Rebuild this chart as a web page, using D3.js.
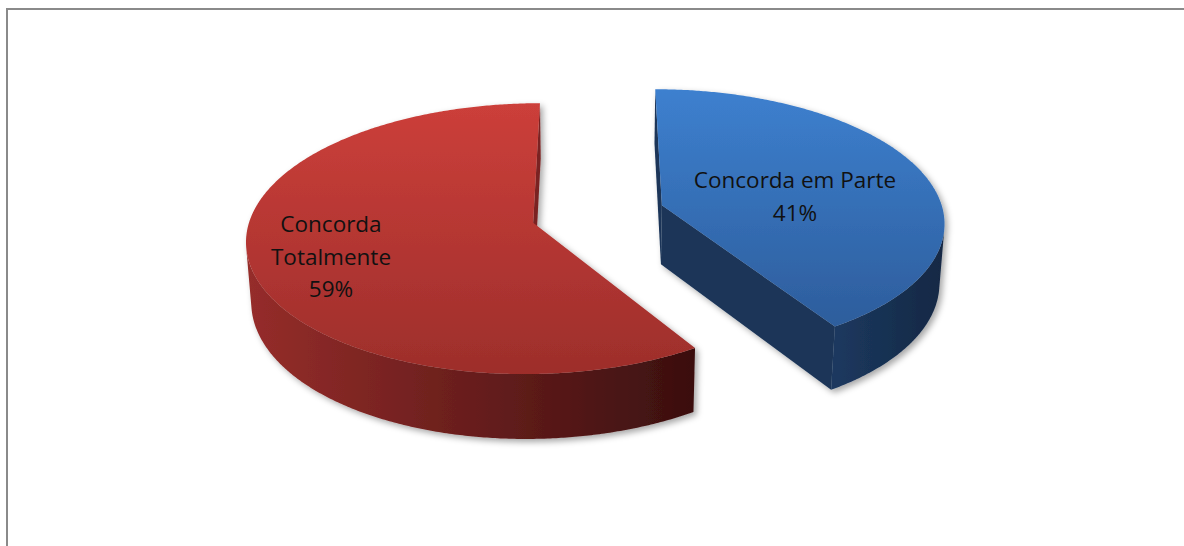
<!DOCTYPE html>
<html>
<head>
<meta charset="utf-8">
<script src="https://cdn.jsdelivr.net/npm/d3@7"></script>
<style>
  html, body { margin: 0; padding: 0; background: #fff; }
  svg { display: block; }
</style>
</head>
<body>
<svg id="chart" width="1184" height="546"></svg>
<script>
// data
const categories = ["Concorda em Parte", "Concorda Totalmente"];
const values = [41, 59];
const labelLines = [["Concorda em Parte", "41%"], ["Concorda", "Totalmente", "59%"]];

const palette = {
  "Concorda em Parte":   { top: ["#3d80cf", "#2d5d9c"], cut: "#1b3558", wall: ["#1c3960", "#142844"] },
  "Concorda Totalmente": { top: ["#cc3f3a", "#9d2e2b"], cut: "#7a2220", wall: ["#962d2a", "#3a0f0f"] }
};

// 3d view of the pie
const view = { cx: 598, cy: 214, D: 2145, alpha: 27.8 * Math.PI / 180 };
const R = 282, H = 68, explode = 67;
const sa = Math.sin(view.alpha), ca = Math.cos(view.alpha);
const camPos = [0, view.D * sa, view.D * ca];

function project(X, Y, Z) {
  const down = Z * sa - Y * ca;
  const depth = Z * ca + Y * sa;
  const f = view.D / (view.D - depth);
  return [view.cx + X * f, view.cy + down * f];
}

const svg = d3.select("#chart");
const defs = svg.append("defs");

const shadow = defs.append("filter").attr("id", "shadow")
  .attr("x", "-10%").attr("y", "-10%").attr("width", "130%").attr("height", "130%");
shadow.append("feDropShadow")
  .attr("dx", 3).attr("dy", 3).attr("stdDeviation", 3)
  .attr("flood-color", "#000").attr("flood-opacity", 0.35);

function gradient(id, c0, c1, horizontal) {
  const g = defs.append("linearGradient").attr("id", id)
    .attr("x1", 0).attr("y1", 0)
    .attr("x2", horizontal ? 1 : 0).attr("y2", horizontal ? 0 : 1);
  g.append("stop").attr("offset", "0%").attr("stop-color", c0);
  g.append("stop").attr("offset", "100%").attr("stop-color", c1);
  return "url(#" + id + ")";
}

// frame
svg.append("rect")
  .attr("x", 7).attr("y", 9).attr("width", 1200).attr("height", 600)
  .attr("fill", "none").attr("stroke", "#8a8a8a").attr("stroke-width", 2);

const pie = d3.pie().sort(null).startAngle(0).endAngle(2 * Math.PI);
const arcs = pie(values).map((d, i) => {
  const mid = (d.startAngle + d.endAngle) / 2;
  return { ...d, name: categories[i], i,
    c: [explode * Math.sin(mid), -explode * Math.cos(mid)] };
});

const line = d3.line().curve(d3.curveLinearClosed);
const step = Math.PI / 360;

function rimPoint(a, Y, c) {
  return project(c[0] + R * Math.sin(a), Y, c[1] - R * Math.cos(a));
}
function angles(a0, a1) {
  const n = Math.max(2, Math.ceil((a1 - a0) / step));
  return d3.range(n + 1).map(k => a0 + (a1 - a0) * k / n);
}
function dot(n, p) {
  return n[0] * (camPos[0] - p[0]) + n[1] * (camPos[1] - p[1]) + n[2] * (camPos[2] - p[2]);
}

// back slice first
arcs.sort((a, b) => a.c[1] - b.c[1]);

arcs.forEach(d => {
  const col = palette[d.name];
  const g = svg.append("g").attr("filter", "url(#shadow)");
  const c = d.c;

  // radial cut faces
  [[d.startAngle, -1], [d.endAngle, 1]].forEach(([a, s]) => {
    const n = [s * Math.cos(a), 0, s * Math.sin(a)];
    if (dot(n, [c[0], 0, c[1]]) <= 0) return;
    const pts = [project(c[0], 0, c[1]), rimPoint(a, 0, c), rimPoint(a, -H, c), project(c[0], -H, c[1])];
    g.append("path").attr("d", line(pts)).attr("fill", col.cut);
  });

  // outer wall, visible part only
  const vis = angles(d.startAngle, d.endAngle).filter(a => {
    const n = [Math.sin(a), 0, -Math.cos(a)];
    const p = [c[0] + R * n[0], -H / 2, c[1] + R * n[2]];
    return dot(n, p) > 0;
  });
  if (vis.length > 1) {
    const pts = vis.map(a => rimPoint(a, 0, c))
      .concat(vis.slice().reverse().map(a => rimPoint(a, -H, c)));
    g.append("path").attr("d", line(pts))
      .attr("fill", gradient("wall" + d.i, col.wall[0], col.wall[1], true));
  }

  // top face
  const top = [project(c[0], 0, c[1])].concat(angles(d.startAngle, d.endAngle).map(a => rimPoint(a, 0, c)));
  g.append("path").attr("d", line(top))
    .attr("fill", gradient("top" + d.i, col.top[0], col.top[1], false));
});

// labels
const labelAt = [[795, 188], [331, 232]];
arcs.forEach(d => {
  const t = svg.append("text")
    .attr("text-anchor", "middle")
    .attr("font-family", "'Open Sans', Lato, sans-serif")
    .attr("font-size", 22.5)
    .attr("fill", "#111");
  labelLines[d.i].forEach((s, k) => {
    t.append("tspan").attr("x", labelAt[d.i][0]).attr("y", labelAt[d.i][1] + k * 32.5).text(s);
  });
});
</script>
</body>
</html>
